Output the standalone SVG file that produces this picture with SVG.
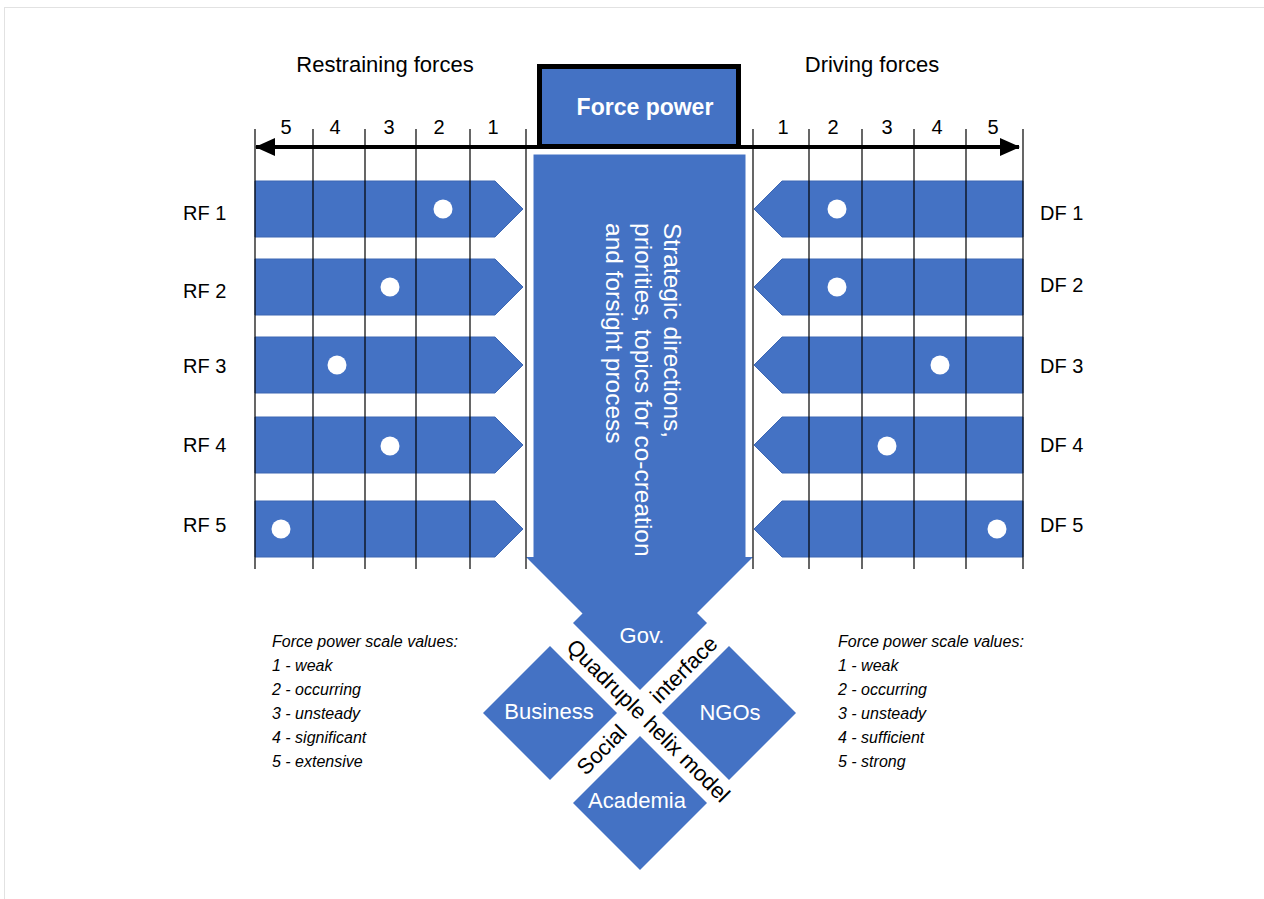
<svg xmlns="http://www.w3.org/2000/svg" width="1264" height="899" viewBox="0 0 1264 899">
<style>
.t{font-family:"Liberation Sans",Arial,Helvetica,sans-serif;fill:#000}
.w{font-family:"Liberation Sans",Arial,Helvetica,sans-serif;fill:#fff}
.num{font-size:20px;text-anchor:middle}
.head{font-size:22px;text-anchor:middle}
.lab{font-size:20px}
.leg{font-size:16px;font-style:italic}
.bar{fill:#4472C4;stroke:#3d67b3;stroke-width:1}
.blue{fill:#4472C4}
.dot{fill:#fff}
.grid{stroke:#000;stroke-width:1.2}
.dl{font-size:22px;text-anchor:middle}
.rl{font-size:22px;text-anchor:middle}
</style>
<defs>
<marker id="ah" markerWidth="20" markerHeight="18" refX="19" refY="9" orient="auto" markerUnits="userSpaceOnUse">
<path d="M0,0 L20,9 L0,18 Z" fill="#000"/>
</marker>
</defs>
<rect x="0" y="0" width="1264" height="899" fill="#fff"/>
<rect x="4.5" y="7.5" width="1270" height="900" fill="none" stroke="#e2e2e2" stroke-width="1"/>

<g id="titles">
<text class="t head" x="385" y="72">Restraining forces</text>
<text class="t head" x="872" y="72">Driving forces</text>
</g>

<g id="scale-left">
<text class="t num" x="286" y="134">5</text>
<text class="t num" x="335" y="134">4</text>
<text class="t num" x="389" y="134">3</text>
<text class="t num" x="439" y="134">2</text>
<text class="t num" x="493" y="134">1</text>
</g>
<g id="scale-right">
<text class="t num" x="783" y="134">1</text>
<text class="t num" x="833" y="134">2</text>
<text class="t num" x="887" y="134">3</text>
<text class="t num" x="937" y="134">4</text>
<text class="t num" x="993" y="134">5</text>
</g>

<g id="central-arrow">
<rect x="533" y="154" width="213" height="405" class="blue" stroke="#fff" stroke-width="1"/>
<polygon points="526,557 753,557 639.5,670.5" class="blue"/>
<text class="w" font-size="24.5" transform="translate(664,223) rotate(90)">Strategic directions,</text>
<text class="w" font-size="24.5" transform="translate(635,223) rotate(90)">priorities, topics for co-creation</text>
<text class="w" font-size="24.5" transform="translate(606,223) rotate(90)">and forsight process</text>
</g>

<g id="rf-bars">
<g id="rf1"><polygon class="bar" points="255,181 495,181 523,209 495,237 255,237"/><circle class="dot" cx="443" cy="209" r="9.5"/></g>
<g id="rf2"><polygon class="bar" points="255,259 495,259 523,287 495,315 255,315"/><circle class="dot" cx="390" cy="287" r="9.5"/></g>
<g id="rf3"><polygon class="bar" points="255,337 495,337 523,365 495,393 255,393"/><circle class="dot" cx="337" cy="365" r="9.5"/></g>
<g id="rf4"><polygon class="bar" points="255,417 495,417 523,445 495,473 255,473"/><circle class="dot" cx="390" cy="446" r="9.5"/></g>
<g id="rf5"><polygon class="bar" points="255,501 495,501 523,529 495,557 255,557"/><circle class="dot" cx="281" cy="529" r="9.5"/></g>
</g>

<g id="df-bars">
<g id="df1"><polygon class="bar" points="782,181 1023,181 1023,237 782,237 754,209"/><circle class="dot" cx="837" cy="209" r="9.5"/></g>
<g id="df2"><polygon class="bar" points="782,259 1023,259 1023,315 782,315 754,287"/><circle class="dot" cx="837" cy="287" r="9.5"/></g>
<g id="df3"><polygon class="bar" points="782,337 1023,337 1023,393 782,393 754,365"/><circle class="dot" cx="940" cy="365" r="9.5"/></g>
<g id="df4"><polygon class="bar" points="782,417 1023,417 1023,473 782,473 754,445"/><circle class="dot" cx="887" cy="446" r="9.5"/></g>
<g id="df5"><polygon class="bar" points="782,501 1023,501 1023,557 782,557 754,529"/><circle class="dot" cx="997" cy="529" r="9.5"/></g>
</g>

<g id="grid">
<line class="grid" x1="255" y1="129" x2="255" y2="569"/>
<line class="grid" x1="313" y1="129" x2="313" y2="569"/>
<line class="grid" x1="365" y1="129" x2="365" y2="569"/>
<line class="grid" x1="416" y1="129" x2="416" y2="569"/>
<line class="grid" x1="470" y1="129" x2="470" y2="569"/>
<line class="grid" x1="526" y1="129" x2="526" y2="569"/>
<line class="grid" x1="753" y1="129" x2="753" y2="569"/>
<line class="grid" x1="809" y1="129" x2="809" y2="569"/>
<line class="grid" x1="862" y1="129" x2="862" y2="569"/>
<line class="grid" x1="914" y1="129" x2="914" y2="569"/>
<line class="grid" x1="966" y1="129" x2="966" y2="569"/>
<line class="grid" x1="1023" y1="129" x2="1023" y2="569"/>
</g>

<g id="connectors">
<line x1="640" y1="147" x2="256" y2="147" stroke="#000" stroke-width="4" marker-end="url(#ah)"/>
<line x1="640" y1="147" x2="1019" y2="147" stroke="#000" stroke-width="4" marker-end="url(#ah)"/>
</g>

<g id="force-power">
<rect x="539.5" y="66.5" width="199" height="80" class="blue" stroke="#000" stroke-width="5"/>
<text class="w" x="645" y="115" font-size="23" font-weight="bold" text-anchor="middle">Force power</text>
</g>

<g id="rf-labels">
<text class="t lab" x="183" y="220">RF 1</text>
<text class="t lab" x="183" y="298">RF 2</text>
<text class="t lab" x="183" y="373">RF 3</text>
<text class="t lab" x="183" y="452">RF 4</text>
<text class="t lab" x="183" y="532">RF 5</text>
</g>
<g id="df-labels">
<text class="t lab" x="1040" y="220">DF 1</text>
<text class="t lab" x="1040" y="292">DF 2</text>
<text class="t lab" x="1040" y="373">DF 3</text>
<text class="t lab" x="1040" y="452">DF 4</text>
<text class="t lab" x="1040" y="532">DF 5</text>
</g>

<g id="gov"><polygon class="blue" points="640,556 707,623 640,690 573,623"/><text class="w dl" x="642" y="643">Gov.</text></g>
<g id="business"><polygon class="blue" points="550,646 617,713 550,780 483,713"/><text class="w dl" x="549" y="719">Business</text></g>
<g id="ngos"><polygon class="blue" points="729,646 796,713 729,780 662,713"/><text class="w dl" x="730" y="720">NGOs</text></g>
<g id="academia"><polygon class="blue" points="640,736 707,803 640,870 573,803"/><text class="w dl" x="637" y="808">Academia</text></g>

<g id="helix-labels">
<text class="t rl" transform="translate(643,726) rotate(45)">Quadruple helix model</text>
<text class="t rl" transform="translate(689,675) rotate(-45)">interface</text>
<text class="t rl" transform="translate(607,755) rotate(-45)">Social</text>
</g>

<g id="legend-left">
<text class="t leg" x="272" y="647">Force power scale values:</text>
<text class="t leg" x="272" y="671">1 - weak</text>
<text class="t leg" x="272" y="695">2 - occurring</text>
<text class="t leg" x="272" y="719">3 - unsteady</text>
<text class="t leg" x="272" y="743">4 - significant</text>
<text class="t leg" x="272" y="767">5 - extensive</text>
</g>
<g id="legend-right">
<text class="t leg" x="838" y="647">Force power scale values:</text>
<text class="t leg" x="838" y="671">1 - weak</text>
<text class="t leg" x="838" y="695">2 - occurring</text>
<text class="t leg" x="838" y="719">3 - unsteady</text>
<text class="t leg" x="838" y="743">4 - sufficient</text>
<text class="t leg" x="838" y="767">5 - strong</text>
</g>
</svg>
